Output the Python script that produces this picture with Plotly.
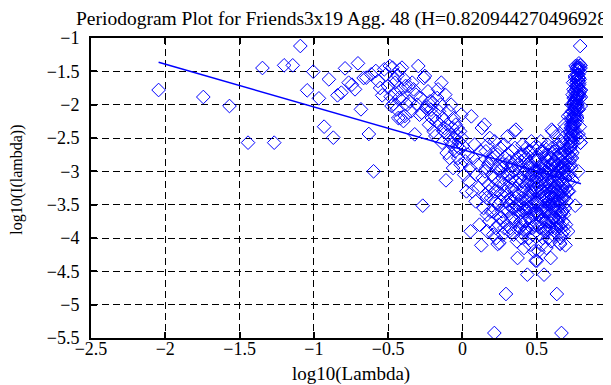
import plotly.graph_objects as go

# ---- data (log10 frequency, log10 periodogram) ----
# lowest frequencies (sparse left part)
low_x = [-2.045, -1.744, -1.568, -1.443, -1.346, -1.267, -1.200, -1.142, -1.091, -1.045,
         -1.004, -0.966, -0.931, -0.899, -0.869, -0.841, -0.815, -0.790, -0.766, -0.744,
         -0.723, -0.703, -0.683, -0.665, -0.647, -0.630, -0.614, -0.598, -0.583, -0.568,
         -0.554, -0.540, -0.526, -0.514, -0.501]
low_y = [-1.78, -1.885, -2.02, -2.57, -1.45, -2.57, -1.41, -1.41, -1.12, -1.785,
         -1.505, -1.905, -2.33, -1.62, -2.495, -1.86, -1.82, -1.455, -1.67, -1.70,
         -1.77, -1.38, -2.07, -1.60, -1.595, -2.44, -1.545, -3.0, -1.495, -1.645,
         -1.75, -1.86, -1.47, -1.55, -1.72]

# middle band (-0.5 .. 0)
mid_x = [-0.489, -0.483, -0.477, -0.471, -0.465, -0.459, -0.454, -0.449, -0.443, -0.437,
         -0.432, -0.427, -0.422, -0.417, -0.412, -0.407, -0.402, -0.397, -0.392, -0.387,
         -0.382, -0.373, -0.364, -0.355, -0.346, -0.338, -0.329, -0.321, -0.313, -0.305,
         -0.297, -0.289, -0.282, -0.274, -0.267, -0.260, -0.253, -0.246, -0.239, -0.232,
         -0.225, -0.218, -0.212, -0.206, -0.200, -0.194, -0.188, -0.182, -0.176, -0.170,
         -0.164, -0.158, -0.153, -0.147, -0.142, -0.137, -0.131, -0.126, -0.121, -0.116,
         -0.111, -0.106, -0.101, -0.096, -0.091, -0.086, -0.081, -0.076, -0.072, -0.067,
         -0.063, -0.058, -0.054, -0.049, -0.045, -0.041, -0.036, -0.032, -0.028, -0.024,
         -0.020, -0.016, -0.012, -0.008, -0.004]
mid_y = [-1.42, -1.88, -2.02, -1.445, -1.99, -1.62, -1.67, -1.83, -2.07, -1.56,
         -2.2, -1.9, -1.475, -2.2, -1.77, -1.445, -1.9, -2.245, -1.62, -2.17,
         -1.72, -2.0, -1.72, -1.95, -2.1, -1.67, -1.77, -2.445, -1.85, -2.0,
         -1.42, -2.15, -1.9, -2.12, -3.515, -1.6, -1.57, -2.05, -2.025, -1.8,
         -2.3, -1.95, -2.075, -2.2, -1.97, -2.4, -2.17, -2.47, -2.25, -1.9,
         -1.77, -2.1, -2.3, -2.0, -1.67, -2.57, -2.2, -2.4, -2.35, -1.85,
         -3.135, -2.725, -2.3, -2.45, -2.1, -2.8, -2.55, -2.0, -2.6, -2.35,
         -2.95, -2.2, -2.5, -2.7, -2.3, -2.45, -2.62, -2.35, -2.8, -2.55,
         -2.65, -2.4, -2.9, -2.15, -2.5]

# dense blob (0 .. 0.5)
blob_x = [0.004, 0.012, 0.019, 0.027, 0.035, 0.043, 0.050, 0.055, 0.060, 0.066,
          0.073, 0.082, 0.089, 0.095, 0.103, 0.108, 0.115, 0.120, 0.127, 0.131,
          0.136, 0.142, 0.149, 0.154, 0.160, 0.165, 0.170, 0.176, 0.181, 0.187,
          0.193, 0.198, 0.204, 0.209, 0.215, 0.219, 0.224, 0.227, 0.232, 0.237,
          0.241, 0.246, 0.249, 0.254, 0.260, 0.264, 0.269, 0.273, 0.278, 0.282,
          0.287, 0.293, 0.297, 0.301, 0.304, 0.308, 0.312, 0.316, 0.320, 0.324,
          0.328, 0.332, 0.336, 0.340, 0.344, 0.349, 0.352, 0.356, 0.360, 0.364,
          0.367, 0.371, 0.375, 0.379, 0.383, 0.387, 0.390, 0.394, 0.398, 0.402,
          0.405, 0.409, 0.412, 0.415, 0.418, 0.422, 0.425, 0.428, 0.431, 0.434,
          0.437, 0.440, 0.443, 0.446, 0.449, 0.452, 0.455, 0.458, 0.461, 0.464,
          0.467, 0.470, 0.473, 0.476, 0.479, 0.482, 0.485, 0.488, 0.490, 0.493,
          0.495]
blob_y = [-2.62, -3.05, -2.85, -3.3, -2.75, -3.15, -2.95, -3.9, -2.175, -3.3,
          -2.8, -2.6, -3.45, -3.05, -2.9, -3.25, -3.8, -2.7, -4.11, -2.35,
          -3.1, -3.55, -2.3, -3.35, -2.95, -3.65, -2.6, -3.2, -3.75, -2.85,
          -3.4, -3.05, -3.6, -2.75, -5.425, -3.3, -3.85, -4.0, -2.95, -4.09,
          -3.5, -3.15, -4.075, -2.65, -3.7, -3.35, -2.9, -3.95, -3.2, -3.85,
          -2.8, -4.84, -3.45, -3.05, -2.475, -3.6, -3.25, -3.9, -2.85, -3.4,
          -3.7, -3.1, -2.7, -3.55, -3.95, -2.4, -3.3, -3.75, -2.375, -3.5,
          -4.05, -4.3, -2.9, -3.65, -3.2, -3.85, -2.75, -3.45, -4.0, -3.15,
          -2.6, -3.6, -3.3, -4.15, -2.95, -3.75, -3.4, -2.8, -3.9, -3.2,
          -4.55, -3.55, -3.05, -2.7, -3.7, -3.35, -4.1, -2.9, -3.6, -2.55,
          -3.85, -3.25, -3.95, -3.0, -3.5, -4.2, -2.8, -3.65, -3.3, -4.34,
          -3.1]

# extra points filling the core of the blob (0.15 .. 0.5)
blob2_x = [0.152, 0.158, 0.163, 0.168, 0.174, 0.179, 0.184, 0.190, 0.196, 0.201,
           0.207, 0.212, 0.217, 0.222, 0.229, 0.235, 0.239, 0.244, 0.251, 0.257,
           0.262, 0.267, 0.271, 0.276, 0.280, 0.285, 0.290, 0.295, 0.299, 0.303,
           0.306, 0.310, 0.314, 0.318, 0.322, 0.326, 0.330, 0.334, 0.338, 0.342,
           0.346, 0.350, 0.354, 0.358, 0.362, 0.366, 0.369, 0.373, 0.377, 0.381,
           0.385, 0.389, 0.392, 0.396, 0.400, 0.404, 0.407, 0.411, 0.414, 0.417,
           0.420, 0.424, 0.427, 0.430, 0.433, 0.436, 0.439, 0.442, 0.445, 0.448,
           0.451, 0.454, 0.457, 0.460, 0.463, 0.466, 0.469, 0.472, 0.475, 0.478,
           0.481, 0.484, 0.487, 0.489, 0.492, 0.494, 0.496]
blob2_y = [-3.0, -2.7, -3.4, -3.9, -2.9, -3.3, -2.5, -3.6, -2.8, -3.25,
           -3.95, -3.1, -2.55, -3.45, -3.65, -2.75, -3.3, -3.8, -3.0, -3.45,
           -2.95, -3.6, -3.1, -3.75, -2.6, -3.3, -3.55, -2.9, -3.8, -3.35,
           -2.75, -3.05, -3.5, -3.15, -3.85, -2.95, -3.45, -3.25, -2.9, -3.7,
           -3.0, -3.55, -2.65, -3.4, -3.15, -3.85, -2.8, -3.35, -3.6, -2.95,
           -3.5, -3.1, -3.75, -2.85, -3.4, -3.8, -3.05, -2.75, -3.55, -3.25,
           -3.9, -3.0, -3.6, -2.65, -3.45, -3.85, -3.15, -2.9, -3.4, -4.0,
           -3.1, -3.55, -3.3, -2.7, -3.75, -3.05, -3.45, -2.95, -3.65, -3.2,
           -2.65, -3.8, -3.0, -3.45, -2.85, -3.6, -3.25]

# upper frequencies (0.5 .. 0.8) incl. the rising arm
high_x = [0.4992, 0.5012, 0.5042, 0.5061, 0.5089, 0.5117, 0.5145, 0.5174, 0.5200, 0.5226,
          0.5252, 0.5277, 0.5303, 0.5329, 0.5354, 0.5380, 0.5404, 0.5426, 0.5448, 0.5471,
          0.5492, 0.5514, 0.5536, 0.5559, 0.5581, 0.5603, 0.5632, 0.5654, 0.5676, 0.5698,
          0.5727, 0.5749, 0.5776, 0.5800, 0.5825, 0.5843, 0.5868, 0.5892, 0.5916, 0.5940,
          0.5965, 0.5983, 0.6007, 0.6032, 0.6056, 0.6073, 0.6098, 0.6119, 0.6139, 0.6159,
          0.6180, 0.6200, 0.6220, 0.6241, 0.6261, 0.6281, 0.6302, 0.6317, 0.6335, 0.6352,
          0.6378, 0.6399, 0.6417, 0.6438, 0.6455, 0.6477, 0.6494, 0.6522, 0.6541, 0.6552,
          0.6570, 0.6584, 0.6603, 0.6621, 0.6632, 0.6651, 0.6666, 0.6688, 0.6704, 0.6725,
          0.6741, 0.6760, 0.6778, 0.6794, 0.6813, 0.6828, 0.6844, 0.6863, 0.6878, 0.6897,
          0.6913, 0.6927, 0.6938, 0.6957, 0.6970, 0.6989, 0.7003, 0.7023, 0.7037, 0.7053,
          0.7074, 0.7090, 0.7104, 0.7115, 0.7127, 0.7141, 0.7158, 0.7174, 0.7190, 0.7205,
          0.7221,
          0.7236, 0.7243, 0.7250, 0.7257, 0.7264, 0.7271, 0.7278, 0.7285, 0.7292, 0.7301,
          0.7308, 0.7315, 0.7323, 0.7329, 0.7337, 0.7343, 0.7351, 0.7358, 0.7365, 0.7373,
          0.7381, 0.7389, 0.7396, 0.7403, 0.7410, 0.7417, 0.7424, 0.7430, 0.7437, 0.7445,
          0.7452, 0.7459, 0.7467, 0.7472, 0.7479, 0.7486, 0.7494, 0.7501, 0.7508, 0.7515,
          0.7522, 0.7528, 0.7535, 0.7541, 0.7548, 0.7556, 0.7563, 0.7571, 0.7578, 0.7584,
          0.7591, 0.7597, 0.7604, 0.7611, 0.7618, 0.7625, 0.7631, 0.7638, 0.7644, 0.7651,
          0.7658, 0.7665, 0.7671, 0.7678, 0.7685, 0.7688, 0.7692, 0.7696, 0.7699, 0.7702,
          0.7706, 0.7709, 0.7712, 0.7715, 0.7718, 0.7721, 0.7725, 0.7728, 0.7731, 0.7734,
          0.7738, 0.7741, 0.7745, 0.7748, 0.7752,
          0.7758, 0.7765, 0.7771, 0.7778, 0.7784, 0.7790, 0.7797, 0.7803, 0.7810, 0.7816,
          0.7822, 0.7829, 0.7835, 0.7842, 0.7848, 0.7854, 0.7861, 0.7867, 0.7874, 0.7880,
          0.7886, 0.7893, 0.7899, 0.7906, 0.7912, 0.7918, 0.7925, 0.7931, 0.7938, 0.7944,
          0.7950, 0.7957, 0.7963, 0.7970, 0.7976]
high_y = [-3.1, -4.34, -3.3, -3.65, -2.8, -4.2, -3.5, -3.0, -3.95, -3.25,
          -3.85, -2.55, -3.6, -2.9, -4.1, -3.35, -3.7, -2.7, -3.05, -3.55,
          -4.55, -3.2, -3.9, -2.8, -3.4, -3.75, -2.95, -4.15, -3.3, -3.6,
          -2.6, -3.15, -4.0, -3.45, -2.75, -3.85, -3.2, -3.65, -2.9, -4.3,
          -4.05, -3.5, -2.375, -3.75, -3.3, -2.4, -3.95, -3.55, -2.7, -3.1,
          -3.7, -3.4, -2.85, -3.9, -3.25, -3.6, -2.475, -3.05, -3.45, -4.84,
          -2.8, -3.85, -3.2, -3.95, -2.9, -3.35, -3.7, -2.65, -4.075, -3.15,
          -3.5, -4.09, -2.95, -4.0, -3.85, -3.3, -5.425, -2.75, -3.6, -3.05,
          -3.4, -2.85, -3.75, -3.2, -2.6, -3.65, -2.95, -3.35, -2.3, -3.55,
          -3.1, -2.35, -4.11, -2.7, -3.8, -3.25, -2.9, -3.05, -3.45, -2.6,
          -2.8, -3.3, -2.175, -3.9, -2.95, -3.15, -2.75, -3.3, -2.85, -3.05,
          -2.62,
          -2.5, -2.15, -2.9, -2.4, -2.65, -2.55, -2.8, -2.35, -2.62, -2.45,
          -2.3, -2.7, -2.5, -2.2, -2.95, -2.35, -2.6, -2.0, -2.55, -2.8,
          -2.1, -2.45, -2.3, -2.725, -3.135, -1.85, -2.35, -2.4, -2.2, -2.57,
          -1.67, -2.0, -2.3, -2.1, -1.77, -1.9, -2.25, -2.47, -2.17, -2.4,
          -1.97, -2.2, -2.075, -1.95, -2.3, -1.8, -2.025, -2.05, -1.57, -1.6,
          -3.515, -2.12, -1.9, -2.15, -1.42, -2.0, -1.85, -2.445, -1.77, -1.67,
          -2.1, -1.95, -1.72, -2.0, -1.72, -2.17, -1.62, -2.245, -1.9, -1.445,
          -1.77, -2.2, -1.475, -1.9, -2.2, -1.56, -2.07, -1.83, -1.67, -1.62,
          -1.99, -1.445, -2.02, -1.88, -1.42,
          -1.72, -1.55, -1.47, -1.86, -1.75, -1.645, -1.495, -3.0, -1.545, -2.44,
          -1.595, -1.60, -2.07, -1.38, -1.77, -1.70, -1.67, -1.455, -1.82, -1.86,
          -2.495, -1.62, -2.33, -1.905, -1.505, -1.785, -1.12, -1.41, -1.41, -2.57,
          -1.45, -2.57, -2.02, -1.885, -1.78]

# extra points filling the core of the upper blob (0.5 .. 0.69)
high2_x = [0.6869, 0.6850, 0.6834, 0.6819, 0.6800, 0.6784, 0.6769, 0.6750, 0.6731, 0.6715,
           0.6694, 0.6675, 0.6657, 0.6639, 0.6613, 0.6592, 0.6577, 0.6559, 0.6533, 0.6507,
           0.6485, 0.6464, 0.6447, 0.6425, 0.6408, 0.6387, 0.6365, 0.6344, 0.6326, 0.6307,
           0.6292, 0.6271, 0.6251, 0.6231, 0.6210, 0.6190, 0.6170, 0.6149, 0.6129, 0.6109,
           0.6088, 0.6068, 0.6044, 0.6019, 0.5995, 0.5971, 0.5952, 0.5928, 0.5904, 0.5879,
           0.5855, 0.5831, 0.5813, 0.5788, 0.5764, 0.5735, 0.5713, 0.5683, 0.5661, 0.5639,
           0.5617, 0.5588, 0.5566, 0.5544, 0.5522, 0.5500, 0.5478, 0.5456, 0.5434, 0.5412,
           0.5388, 0.5363, 0.5337, 0.5311, 0.5286, 0.5260, 0.5234, 0.5209, 0.5183, 0.5155,
           0.5127, 0.5098, 0.5070, 0.5051, 0.5022, 0.5002, 0.4982]
high2_y = [-3.0, -2.7, -3.4, -3.9, -2.9, -3.3, -2.5, -3.6, -2.8, -3.25,
           -3.95, -3.1, -2.55, -3.45, -3.65, -2.75, -3.3, -3.8, -3.0, -3.45,
           -2.95, -3.6, -3.1, -3.75, -2.6, -3.3, -3.55, -2.9, -3.8, -3.35,
           -2.75, -3.05, -3.5, -3.15, -3.85, -2.95, -3.45, -3.25, -2.9, -3.7,
           -3.0, -3.55, -2.65, -3.4, -3.15, -3.85, -2.8, -3.35, -3.6, -2.95,
           -3.5, -3.1, -3.75, -2.85, -3.4, -3.8, -3.05, -2.75, -3.55, -3.25,
           -3.9, -3.0, -3.6, -2.65, -3.45, -3.85, -3.15, -2.9, -3.4, -4.0,
           -3.1, -3.55, -3.3, -2.7, -3.75, -3.05, -3.45, -2.95, -3.65, -3.2,
           -2.65, -3.8, -3.0, -3.45, -2.85, -3.6, -3.25]

# least-squares fit line end points (slope = 1 - 2H)
fit_x = [-2.045, 0.798]
fit_y = [-1.364, -3.185]

title_text = "Periodogram Plot for Friends3x19 Agg. 48 (H=0.820944270496928)"
x_label = "log10(Lambda)"
y_label = "log10(I(lambda))"
x_ticks = [-2.5, -2, -1.5, -1, -0.5, 0, 0.5, 1]
y_ticks = [-1, -1.5, -2, -2.5, -3, -3.5, -4, -4.5, -5, -5.5]

pts_x = low_x + mid_x + blob_x + blob2_x + high_x + high2_x
pts_y = low_y + mid_y + blob_y + blob2_y + high_y + high2_y

FONT = "Liberation Serif, Times New Roman, serif"
BLUE = "#0000ff"

fig = go.Figure()
fig.add_trace(go.Scatter(
    x=pts_x, y=pts_y, mode="markers",
    marker=dict(symbol="diamond-open", size=10.5, color=BLUE, line=dict(width=1, color=BLUE)),
    showlegend=False, hoverinfo="skip"))
fig.add_trace(go.Scatter(
    x=fit_x, y=fit_y, mode="lines",
    line=dict(color=BLUE, width=1.5), showlegend=False, hoverinfo="skip"))

axis_common = dict(
    showgrid=True, gridcolor="black", gridwidth=1, griddash="7px,4px",
    zeroline=False, showline=True, linecolor="black", linewidth=2, mirror="allticks",
    ticks="inside", ticklen=6, tickwidth=1.5, tickcolor="black",
    tickfont=dict(family=FONT, size=18, color="black"),
)

fig.update_xaxes(range=[-2.5, 1], tickvals=x_ticks, ticklabelstandoff=-7, **axis_common)
fig.update_yaxes(range=[-5.5, -1], tickvals=y_ticks, ticklabelstandoff=6, **axis_common)

fig.update_layout(
    width=611, height=385,
    margin=dict(l=83, r=3, t=30, b=55),
    paper_bgcolor="white", plot_bgcolor="white",
    title=dict(text=title_text, x=68 / 611, xanchor="left", xref="container",
               y=1 - 10 / 385, yanchor="middle", yref="container",
               font=dict(family=FONT, size=19.5, color="black")),
    annotations=[
        dict(text=x_label, xref="paper", yref="paper", x=0.5, y=(330 - 366) / 300,
             xanchor="center", yanchor="middle", showarrow=False,
             font=dict(family=FONT, size=19, color="black")),
        dict(text=y_label, xref="paper", yref="paper", x=(8 - 83) / 525, y=(330 - 172) / 300,
             xanchor="center", yanchor="middle", textangle=-90, showarrow=False,
             font=dict(family=FONT, size=16, color="black")),
    ],
)

fig.write_html("out.html")
